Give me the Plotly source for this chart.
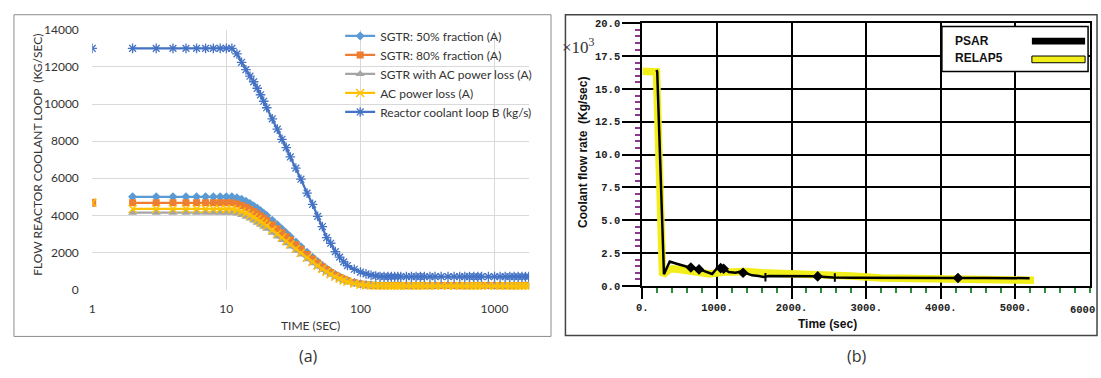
import plotly.graph_objects as go

W, H = 1101, 378

# ---------------- Panel (a) data ----------------
first_time = [1]
first_80 = [4680]
first_ac = [4680]
first_loopB = [13000]

time_a = [2, 3, 4, 5, 6, 7, 8, 9, 10, 11,
          12, 13, 14, 15, 16, 17, 18, 19, 20, 22, 24, 26, 28, 30, 33, 36, 40, 44, 48, 52, 56, 60,
          65, 70, 75, 80, 90, 100, 110, 120, 130, 140,
          150, 160, 170, 180, 190, 200, 220, 240, 260, 280, 300, 330, 360, 400, 450, 500, 550, 600,
          650, 700, 750, 800, 900, 1000, 1100, 1200, 1300, 1400, 1500, 1600, 1700, 1800]

sgtr50 = [5000, 5000, 5000, 5000, 5000, 5000, 5000, 5000, 5000, 5000,
          4950, 4870, 4760, 4640, 4510, 4380, 4250, 4120, 3990, 3740, 3500, 3270, 3050, 2850, 2570, 2310, 2010, 1740, 1510, 1300, 1120, 970,
          810, 690, 590, 500, 390, 320, 280, 260, 250, 245,
          240, 240, 240, 240, 240, 240, 240, 240, 240, 240, 240, 240, 240, 240, 240, 240, 240, 240,
          240, 240, 240, 240, 240, 240, 240, 240, 240, 240, 240, 240, 240, 240]

sgtr80 = [4680, 4680, 4680, 4680, 4680, 4680, 4680, 4680, 4680, 4680,
          4620, 4540, 4440, 4330, 4210, 4090, 3970, 3850, 3730, 3500, 3280, 3070, 2870, 2680, 2420, 2180, 1900, 1650, 1430, 1240, 1070, 930,
          780, 660, 560, 480, 370, 300, 260, 240, 230, 225,
          220, 220, 220, 220, 220, 220, 220, 220, 220, 220, 220, 220, 220, 220, 220, 220, 220, 220,
          220, 220, 220, 220, 220, 220, 220, 220, 220, 220, 220, 220, 220, 220]

sgtr_ac = [4150, 4150, 4150, 4150, 4150, 4150, 4150, 4150, 4150, 4150,
           4100, 4020, 3930, 3830, 3720, 3610, 3500, 3390, 3280, 3070, 2870, 2680, 2500, 2330, 2100, 1890, 1640, 1420, 1230, 1060, 920, 800,
           670, 560, 480, 410, 310, 250, 220, 200, 190, 185,
           180, 180, 180, 180, 180, 180, 180, 180, 180, 180, 180, 180, 180, 180, 180, 180, 180, 180,
           180, 180, 180, 180, 180, 180, 180, 180, 180, 180, 180, 180, 180, 180]

ac_loss = [4350, 4350, 4350, 4350, 4350, 4350, 4350, 4350, 4350, 4350,
           4290, 4210, 4120, 4010, 3900, 3790, 3670, 3560, 3440, 3220, 3010, 2810, 2620, 2440, 2200, 1980, 1720, 1490, 1290, 1110, 960, 830,
           700, 590, 500, 430, 330, 270, 230, 210, 200, 195,
           190, 190, 190, 190, 190, 190, 190, 190, 190, 190, 190, 190, 190, 190, 190, 190, 190, 190,
           190, 190, 190, 190, 190, 190, 190, 190, 190, 190, 190, 190, 190, 190]

loopB = [13000, 13000, 13000, 13000, 13000, 13000, 13000, 13000, 13000, 13000,
         12700, 12250, 11850, 11500, 11200, 10850, 10500, 10150, 9800, 9200, 8650, 8100, 7650, 7150, 6550, 5950, 5200, 4600, 3950, 3400, 2800, 2500,
         2050, 1750, 1500, 1300, 1100, 950, 850, 780, 740, 710,
         700, 700, 700, 700, 700, 700, 700, 700, 700, 700, 700, 700, 700, 700, 700, 700, 700, 700,
         700, 700, 700, 700, 700, 700, 700, 700, 700, 700, 700, 700, 700, 700]

ticks_a_x = [1, 10, 100, 1000]
ticks_a_x_text = ["1", "10", "100", "1000"]
ticks_a_y = [0, 2000, 4000, 6000, 8000, 10000, 12000, 14000]
ticks_a_y_text = ["0", "2000", "4000", "6000", "8000", "10000", "12000", "14000"]

# ---------------- Panel (b) data ----------------
psar_t = [190, 200, 290, 367, 450, 535, 600, 647, 700, 758, 803, 870, 936, 1003, 1050, 1092, 1159, 1250,
          1327, 1400, 1469, 1560, 1625, 1700, 1780, 1900, 2000, 2136, 2336, 2450, 2558, 2800, 3025,
          3470, 3800, 4230, 4600, 5000, 5190]
psar_v = [16.45, 16.3, 0.88, 1.85, 1.7, 1.53, 1.45, 1.41, 1.35, 1.29, 1.17, 1.05, 0.9, 1.36, 1.35, 1.3, 1.05, 1.0,
          1.1, 0.95, 0.8, 0.75, 0.68, 0.75, 0.75, 0.75, 0.74, 0.73, 0.73, 0.68, 0.63, 0.62, 0.61,
          0.61, 0.61, 0.6, 0.6, 0.58, 0.58]
psar_mark_t = [650, 760, 1050, 1090, 1350, 1650, 2350, 2580, 4230]
psar_mark_v = [1.4, 1.25, 1.35, 1.3, 1.0, 0.65, 0.72, 0.63, 0.6]
psar_mark_sym = ["diamond", "diamond", "diamond", "diamond", "diamond", "line-ns", "diamond",
                 "line-ns", "diamond"]

relap_t = [0, 190, 270, 300, 350, 400, 500, 600, 700, 800, 900, 1000, 1100, 1200, 1400, 1600, 1800, 2000,
           2400, 2800, 3200, 3600, 4000, 4600, 5250]
relap_v = [16.35, 16.3, 1.0, 0.95, 1.2, 1.3, 1.25, 1.2, 1.15, 1.0, 0.9, 1.0, 1.05, 1.05, 1.1, 1.0, 0.98, 0.95,
           0.9, 0.75, 0.6, 0.55, 0.48, 0.45, 0.42]

ticks_b_x = [0, 1000, 2000, 3000, 4000, 5000]
ticks_b_x_text = ["0.", "1000.", "2000.", "3000.", "4000.", "5000."]
ticks_b_y = [0, 2.5, 5, 7.5, 10, 12.5, 15, 17.5, 20]
ticks_b_y_text = ["0.0", "2.5", "5.0", "7.5", "10.0", "12.5", "15.0", "17.5", "20.0"]


def px(x):
    return x / W


def py(y):
    return (H - y) / H


fig = go.Figure()

# panel (a) traces
specs = [
    ("SGTR: 50% fraction (A)", sgtr50, "#5B9BD5", "diamond", 7, 0),
    ("SGTR: 80% fraction (A)", sgtr80, "#ED7D31", "square", 7, 0),
    ("SGTR with AC power loss (A)", sgtr_ac, "#A5A5A5", "triangle-up", 8, 0),
    ("AC power loss (A)", ac_loss, "#FFC000", "x-thin-open", 8, 1.5),
    ("Reactor coolant loop B (kg/s)", loopB, "#4472C4", "asterisk-open", 8, 1.3),
]
for name, vals, col, sym, size, lw in specs:
    mk = dict(symbol=sym, size=size, color=col)
    if lw:
        mk["line"] = dict(color=col, width=lw)
    fig.add_trace(go.Scatter(x=time_a, y=vals, name=name, mode="lines+markers",
                             line=dict(color=col, width=2.25), marker=mk,
                             xaxis="x", yaxis="y", legend="legend"))

fig.add_trace(go.Scatter(x=first_time, y=first_80, mode="markers", showlegend=False,
                         marker=dict(symbol="square", size=8, color="#ED7D31"), xaxis="x", yaxis="y"))
fig.add_trace(go.Scatter(x=first_time, y=first_ac, mode="markers", showlegend=False,
                         marker=dict(symbol="x-thin-open", size=8, color="#FFC000",
                                     line=dict(color="#FFC000", width=1.5)), xaxis="x", yaxis="y"))
fig.add_trace(go.Scatter(x=first_time, y=first_loopB, mode="markers", showlegend=False,
                         marker=dict(symbol="asterisk-open", size=8, color="#4472C4",
                                     line=dict(color="#4472C4", width=1.3)), xaxis="x", yaxis="y"))

# panel (b) traces
fig.add_trace(go.Scatter(x=relap_t, y=relap_v, name="RELAP5", mode="lines", showlegend=False,
                         line=dict(color="#f2ee1a", width=7.5), xaxis="x2", yaxis="y2"))
fig.add_trace(go.Scatter(x=psar_t, y=psar_v, name="PSAR", mode="lines", showlegend=False,
                         line=dict(color="#000000", width=2.5), xaxis="x2", yaxis="y2"))
fig.add_trace(go.Scatter(x=psar_mark_t, y=psar_mark_v, mode="markers", showlegend=False,
                         marker=dict(symbol=psar_mark_sym, size=6, color="#000000",
                                     line=dict(color="#000000", width=2)), xaxis="x2", yaxis="y2"))

lato = "Lato, 'Open Sans', sans-serif"
mono = "'Liberation Mono', 'DejaVu Sans Mono', monospace"
sans = "'Liberation Sans', Arial, sans-serif"

fig.update_layout(
    width=W, height=H, margin=dict(l=0, r=0, t=0, b=0),
    paper_bgcolor="white", plot_bgcolor="white",
    xaxis=dict(type="log", range=[0, 3.258], domain=[px(86.7), px(526)], anchor="y",
               tickvals=ticks_a_x, ticktext=ticks_a_x_text, showgrid=True, gridcolor="#d9d9d9",
               gridwidth=1, showline=False, zeroline=False, ticks="outside", ticklen=8,
               tickcolor="rgba(0,0,0,0)", tickfont=dict(family=lato, size=12, color="#333333")),
    yaxis=dict(range=[0, 14000], domain=[py(293.3), py(22.7)], anchor="x",
               tickvals=ticks_a_y, ticktext=ticks_a_y_text,
               showgrid=True, gridcolor="#d9d9d9", gridwidth=1, showline=False, zeroline=False,
               ticks="outside", ticklen=10, tickcolor="rgba(0,0,0,0)",
               tickfont=dict(family=lato, size=12, color="#333333")),
    xaxis2=dict(range=[0, 6000], domain=[px(639.8), px(1090)], anchor="y2",
                tickvals=ticks_b_x, ticktext=ticks_b_x_text, showgrid=True, gridcolor="#000000",
                gridwidth=1.6, showline=True, linecolor="#000000", linewidth=2, mirror=True,
                zeroline=False, ticks="outside", ticklen=11, tickwidth=1.5, tickcolor="#000000",
                minor=dict(dtick=200, ticks="outside", ticklen=5, tickcolor="#2e8b3a", showgrid=False),
                tickfont=dict(family=mono, size=10.5, color="#222222", weight="bold")),
    yaxis2=dict(range=[0, 20], domain=[py(289.3), py(16)], anchor="x2",
                tickvals=ticks_b_y, ticktext=ticks_b_y_text, showgrid=True, gridcolor="#000000",
                gridwidth=1.6, showline=True, linecolor="#000000", linewidth=2, mirror=True,
                zeroline=False, ticks="outside", ticklen=18, tickwidth=1.5, tickcolor="#000000",
                minor=dict(dtick=0.5, ticks="outside", ticklen=5, tickcolor="#8b3a8b", showgrid=False),
                tickfont=dict(family=mono, size=10.5, color="#222222", weight="bold")),
    legend=dict(x=px(336), y=py(14), xanchor="left", yanchor="top", bgcolor="rgba(0,0,0,0)",
                font=dict(family=lato, size=12, color="#333333"), tracegroupgap=0,
                itemwidth=30),
)

shapes = [
    # panel borders
    dict(type="rect", xref="paper", yref="paper", x0=px(8), x1=px(548), y0=py(342), y1=py(7),
         line=dict(color="#8c8c8c", width=1), layer="above"),
    dict(type="rect", xref="paper", yref="paper", x0=px(562.5), x1=px(1097), y0=py(341), y1=py(7),
         line=dict(color="#444444", width=1.5), layer="above"),
    # panel (b) legend
    dict(type="rect", xref="paper", yref="paper", x0=px(941), x1=px(1088), y0=py(66), y1=py(19.3),
         line=dict(color="#000000", width=1.5), fillcolor="white", layer="above"),
    dict(type="rect", xref="paper", yref="paper", x0=px(1031.5), x1=px(1085), y0=py(38), y1=py(31),
         line=dict(color="#000000", width=0), fillcolor="#000000", layer="above"),
    dict(type="rect", xref="paper", yref="paper", x0=px(1031.5), x1=px(1085), y0=py(57), y1=py(50),
         line=dict(color="#000000", width=1), fillcolor="#f2ee1a", layer="above"),
]

annotations = [
    dict(text="FLOW REACTOR COOLANT LOOP  (KG/SEC)", x=px(32), y=py(153), textangle=-90,
         font=dict(family=lato, size=12, color="#333333")),
    dict(text="TIME (SEC)", x=px(306), y=py(331), font=dict(family=lato, size=12, color="#333333")),
    dict(text="(a)", x=px(304), y=py(362), font=dict(family="'Open Sans', sans-serif", size=16, color="#333333")),
    dict(text="(b)", x=px(856), y=py(362), font=dict(family="'Open Sans', sans-serif", size=16, color="#333333")),
    dict(text="Coolant flow rate  (Kg/sec)", x=px(580), y=py(150), textangle=-90,
         font=dict(family=sans, size=12, color="#111111", weight="bold")),
    dict(text="Time (sec)", x=px(826), y=py(329), font=dict(family=sans, size=12, color="#111111", weight="bold")),
    dict(text="×10<sup>3</sup>", x=px(576), y=py(40), font=dict(family="'Liberation Serif', serif", size=17, color="#333333")),
    dict(text="PSAR", x=px(952), y=py(34), xanchor="left",
         font=dict(family=sans, size=12, color="#111111", weight="bold")),
    dict(text="RELAP5", x=px(952), y=py(52), xanchor="left",
         font=dict(family=sans, size=12, color="#111111", weight="bold")),
    dict(text="6000", x=px(1097), y=py(314), xanchor="right",
         font=dict(family=mono, size=10.5, color="#222222", weight="bold")),
]
for a in annotations:
    a.setdefault("xanchor", "center")
    a.update(xref="paper", yref="paper", yanchor="middle", showarrow=False)

fig.update_layout(shapes=shapes, annotations=annotations)

fig.write_html("out.html")
